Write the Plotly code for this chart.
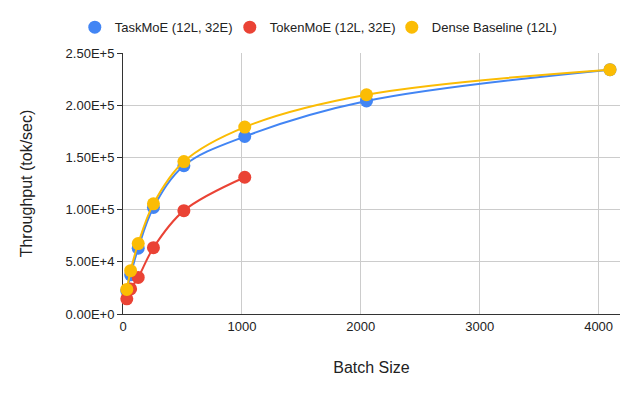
import plotly.graph_objects as go

batch_task = [32, 64, 128, 256, 512, 1024, 2048, 4096]
task_moe = [22000, 37500, 63000, 102000, 142000, 170000, 204000, 234000]
batch_token = [32, 64, 128, 256, 512, 1024]
token_moe = [14500, 24000, 35000, 63500, 99000, 131000]
batch_dense = [32, 64, 128, 256, 512, 1024, 2048, 4096]
dense = [23500, 41500, 67500, 105500, 146000, 179000, 210000, 234000]

y_ticks = [0, 50000, 100000, 150000, 200000, 250000]
y_tick_text = ["0.00E+0", "5.00E+4", "1.00E+5", "1.50E+5", "2.00E+5", "2.50E+5"]
x_ticks = [0, 1000, 2000, 3000, 4000]

names = ["TaskMoE (12L, 32E)", "TokenMoE (12L, 32E)", "Dense Baseline (12L)"]
colors = ["#4285F4", "#EA4335", "#FBBC04"]
legend_widths = [110, 117, 125]

fig = go.Figure()
series = [(batch_task, task_moe), (batch_token, token_moe), (batch_dense, dense)]
for (xs, ys), nm, c in zip(series, names, colors):
    fig.add_trace(go.Scatter(
        x=xs, y=ys, name=nm, mode="lines+markers", showlegend=False,
        line=dict(color=c, width=2, shape="spline", smoothing=1.0),
        marker=dict(color=c, size=13, line=dict(width=0)),
        cliponaxis=False,
    ))
# legend entries (circle only, as in the reference)
for nm, c, lw in zip(names, colors, legend_widths):
    fig.add_trace(go.Scatter(
        x=[None], y=[None], name=nm, mode="markers", legendwidth=lw,
        marker=dict(color=c, size=13, line=dict(width=0)),
    ))

font = "Liberation Sans, Arial, sans-serif"
fig.update_layout(
    width=640, height=396,
    margin=dict(l=123, r=20, t=51, b=82),
    paper_bgcolor="white", plot_bgcolor="white",
    font=dict(family=font, size=13, color="#222222"),
    showlegend=True,
    legend=dict(orientation="h", xref="paper", x=-0.097, xanchor="left",
                yref="paper", y=(314 - 25) / 263, yanchor="middle",
                font=dict(size=13, color="#222222"),
                itemwidth=30, tracegroupgap=0),
    xaxis=dict(
        range=[0, 4180], tickvals=x_ticks, showgrid=True, gridcolor="#cccccc",
        gridwidth=1, showline=True, linecolor="#333333", linewidth=1,
        zeroline=False, ticks="", tickfont=dict(size=13, color="#222222"),
        title=dict(text="Batch Size", font=dict(size=16, color="#222222"), standoff=29),
        layer="below traces", automargin=False,
    ),
    yaxis=dict(
        range=[0, 250000], tickvals=y_ticks, ticktext=y_tick_text, showgrid=True,
        gridcolor="#cccccc", gridwidth=1, showline=True, linecolor="#333333",
        linewidth=1, zeroline=False, ticks="outside", ticklen=5, tickcolor="#333333",
        tickfont=dict(size=13, color="#222222"),
        title=dict(text="Throughput (tok/sec)", font=dict(size=16, color="#222222"), standoff=29),
        layer="below traces", automargin=False,
    ),
)
fig.write_html("out.html", config={"displayModeBar": False},
               post_script="document.body.style.margin='0px';")
